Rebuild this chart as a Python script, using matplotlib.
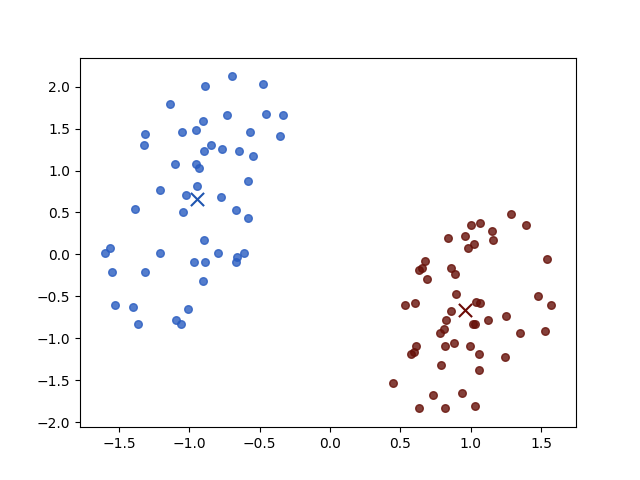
import numpy as np
import matplotlib
matplotlib.use("Agg")
import matplotlib.pyplot as plt

# cluster 0 (blue)
blue_x = [-0.695, -0.886, -0.474, -1.135, -0.730, -0.453, -0.332, -0.901, -1.313, -1.050,
          -0.950, -0.567, -0.353, -1.320, -0.844, -0.894, -0.766, -0.645, -0.545, -1.100,
          -0.950, -0.929, -0.581, -1.206, -0.943, -1.022, -0.773, -1.384, -1.043, -0.666,
          -0.581, -0.894, -1.562, -1.597, -1.206, -0.794, -0.609, -0.659, -0.666, -0.965,
          -0.886, -1.548, -1.313, -0.901, -1.526, -1.398, -1.007, -1.363, -1.093, -1.057]
blue_y = [2.128, 2.008, 2.032, 1.793, 1.662, 1.674, 1.662, 1.590, 1.435, 1.459,
          1.483, 1.459, 1.411, 1.304, 1.304, 1.232, 1.256, 1.232, 1.173, 1.077,
          1.077, 1.029, 0.874, 0.767, 0.814, 0.707, 0.683, 0.540, 0.504, 0.528,
          0.432, 0.170, 0.074, 0.014, 0.014, 0.014, 0.014, -0.033, -0.093, -0.093,
          -0.093, -0.213, -0.213, -0.320, -0.607, -0.630, -0.654, -0.833, -0.786, -0.833]

# cluster 1 (red)
red_x = [1.289, 1.395, 1.004, 1.068, 1.154, 1.161, 0.841, 0.962, 1.026, 0.983,
         0.677, 0.656, 0.635, 0.862, 0.891, 0.692, 1.545, 0.898, 1.481, 0.535,
         0.606, 1.040, 1.068, 1.573, 0.862, 0.827, 1.125, 1.253, 1.019, 1.033,
         0.813, 0.784, 1.353, 1.530, 0.613, 0.599, 0.578, 0.820, 0.884, 0.997,
         1.061, 1.246, 0.791, 1.061, 0.450, 0.734, 0.940, 0.635, 0.820, 1.033]
red_y = [0.480, 0.349, 0.349, 0.373, 0.277, 0.170, 0.193, 0.217, 0.122, 0.074,
         -0.081, -0.165, -0.189, -0.165, -0.236, -0.296, -0.057, -0.475, -0.499, -0.607,
         -0.583, -0.571, -0.583, -0.607, -0.678, -0.786, -0.786, -0.738, -0.833, -0.833,
         -0.893, -0.941, -0.941, -0.917, -1.096, -1.168, -1.192, -1.096, -1.060, -1.096,
         -1.192, -1.227, -1.323, -1.383, -1.538, -1.681, -1.657, -1.836, -1.836, -1.813]

# centroids
cent_x = [-0.943, 0.962]
cent_y = [0.659, -0.666]

fig, ax = plt.subplots(figsize=(6.4, 4.8), dpi=100)
ax.scatter(blue_x, blue_y, s=30, color='#295cc0', alpha=0.8)
ax.scatter(red_x, red_y, s=30, color='#661008', alpha=0.8)
ax.scatter(cent_x[0], cent_y[0], marker='x', s=90, color='#1f55b0', linewidths=1.5)
ax.scatter(cent_x[1], cent_y[1], marker='x', s=90, color='#6b0a05', linewidths=1.5)

ax.set_xlim(-1.777, 1.749)
ax.set_ylim(-2.06, 2.346)

plt.savefig("out.png")
